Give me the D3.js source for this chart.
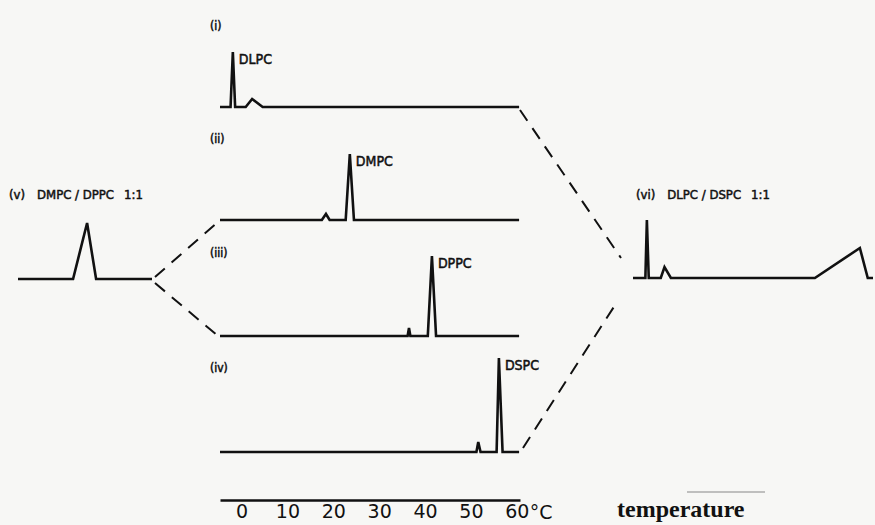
<!DOCTYPE html>
<meta charset="utf-8">
<style>
	body { margin: 0; background: #f7f7f5; }
	svg { display: block; }
	.trace { fill: none; stroke: #111; stroke-width: 2.6; stroke-linejoin: miter; }
	.link { stroke: #111; stroke-width: 2; stroke-dasharray: 13,9; }
	.lbl { font-family: "DejaVu Sans Condensed", "DejaVu Sans", sans-serif; fill: #111; stroke: #111; stroke-width: 0.5; }
</style>
<script src="https://d3js.org/d3.v7.min.js"></script>
<body>
<script>
	// tick labels of the temperature axis (degC)
	var tempTicks = [0, 10, 20, 30, 40, 50, 60];

	var panelTags = ["(i)", "(ii)", "(iii)", "(iv)"];
	var lipids = ["DLPC", "DMPC", "DPPC", "DSPC"];

	// DSC traces: [temperature degC, heat flow (arbitrary)]
	var traceDLPC = [[-4.7,0],[-2.4,0],[-1.9,55],[-1.4,0],[0.9,0],[2.3,8],[4.6,0],[60.5,0]];
	var traceDMPC = [[-4.7,0],[17.5,0],[18.4,6],[19.2,0],[22.7,0],[23.6,66],[24.5,0],[60.5,0]];
	var traceDPPC = [[-4.7,0],[36.2,0],[36.5,8],[36.8,0],[40.6,0],[41.5,80],[42.4,0],[60.5,0]];
	var traceDSPC = [[-4.7,0],[51.2,0],[51.6,10],[52.1,0],[55.6,0],[56.1,94],[56.9,0],[60.5,0]];

	// binary mixtures 1:1
	var mixTags = ["(v)", "(vi)"];
	var mixNames = ["DMPC / DPPC", "DLPC / DSPC"];
	var mixRatio = "1:1";
	var traceDMPCDPPC = [[-4,0],[22.3,0],[29,56],[33.3,0],[60,0]];
	var traceDLPCDSPC = [[-4,0],[-0.7,0],[-0.3,58],[0.2,0],[3.4,0],[4.4,11],[6.1,0],[44.5,0],[56.5,30],[58.6,0],[60,0]];

	var width = 875, height = 525;
	var svg = d3.select("body").append("svg")
		.attr("width", width)
		.attr("height", height);

	// shared temperature scale of the four pure lipid panels
	var x = d3.scaleLinear().domain([-4.7, 60.7]).range([220, 520]);
	var xLeft = d3.scaleLinear().domain([-4, 60]).range([18, 152]);
	var xRight = d3.scaleLinear().domain([-4, 60]).range([633, 873]);

	var baselines = [107, 220, 336, 452];
	var traces = [traceDLPC, traceDMPC, traceDPPC, traceDSPC];

	function yFor(base) {
		return d3.scaleLinear().domain([0, 100]).range([base, base - 100]);
	}

	traces.forEach(function(tr, i) {
		var y = yFor(baselines[i]);
		var line = d3.line().x(function(d) { return x(d[0]); }).y(function(d) { return y(d[1]); });
		svg.append("path").attr("class", "trace").attr("d", line(tr));

		svg.append("text").attr("class", "lbl")
			.attr("x", 210).attr("y", baselines[i] - [77, 77, 79, 80][i])
			.attr("font-size", 12).attr("stroke-width", 0.3)
			.text(panelTags[i]);

		// lipid name next to top of the main peak
		var peak = d3.max(tr, function(d) { return d[1]; });
		var pk = tr.find(function(d) { return d[1] === peak; });
		svg.append("text").attr("class", "lbl")
			.attr("x", x(pk[0]) + 6).attr("y", y(peak) + 12)
			.attr("font-size", 14)
			.text(lipids[i]);
	});

	// left mixture (v)
	var yL = yFor(279);
	svg.append("path").attr("class", "trace")
		.attr("d", d3.line().x(function(d) { return xLeft(d[0]); }).y(function(d) { return yL(d[1]); })(traceDMPCDPPC));
	// right mixture (vi)
	var yR = yFor(278);
	svg.append("path").attr("class", "trace")
		.attr("d", d3.line().x(function(d) { return xRight(d[0]); }).y(function(d) { return yR(d[1]); })(traceDLPCDSPC));

	var mixPos = [[9, 199], [636, 199]];
	mixPos.forEach(function(p, i) {
		var t = svg.append("text").attr("class", "lbl")
			.attr("x", p[0]).attr("y", p[1])
			.attr("font-size", 13);
		t.append("tspan").text(mixTags[i]);
		t.append("tspan").attr("dx", 12).text(mixNames[i]);
		t.append("tspan").attr("dx", 10).text(mixRatio);
	});

	// dashed connectors
	var links = [
		[155, 277, 218, 222],
		[155, 283, 218, 336],
		[520, 110, 621, 258],
		[523, 448, 617, 302]
	];
	svg.selectAll("line.link").data(links).enter().append("line")
		.attr("class", "link")
		.attr("x1", function(d) { return d[0]; }).attr("y1", function(d) { return d[1]; })
		.attr("x2", function(d) { return d[2]; }).attr("y2", function(d) { return d[3]; });

	// temperature axis
	var axis = svg.append("g")
		.attr("transform", "translate(0,500)")
		.call(d3.axisBottom(x).tickValues(tempTicks).tickSize(0).tickSizeOuter(0).tickPadding(5));
	axis.select(".domain").attr("stroke", "#111").attr("stroke-width", 2.6);
	axis.selectAll("text")
		.attr("font-family", "'DejaVu Sans', sans-serif")
		.attr("font-size", 19)
		.attr("fill", "#111");
	svg.append("text")
		.attr("x", x(60) + 13).attr("y", 519)
		.attr("font-family", "'DejaVu Sans', sans-serif")
		.attr("font-size", 19).attr("fill", "#111")
		.text("°C");

	svg.append("line")
		.attr("x1", 687).attr("x2", 765).attr("y1", 492).attr("y2", 492)
		.attr("stroke", "#888").attr("stroke-width", 1.2);
	svg.append("text")
		.attr("x", 617).attr("y", 517)
		.attr("font-family", "'Liberation Serif', serif")
		.attr("font-weight", "bold")
		.attr("font-size", 24).attr("fill", "#111")
		.text("temperature");
</script>
</body>
